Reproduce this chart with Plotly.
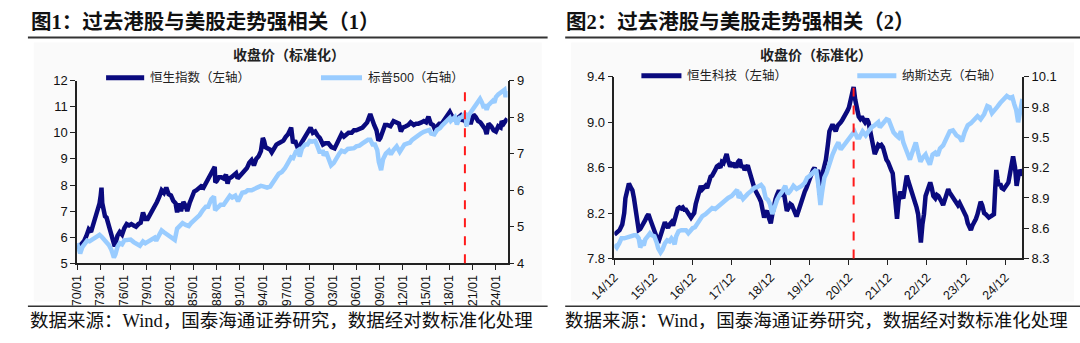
import plotly.graph_objects as go

# ---------------- data: left panel (HSI vs S&P500, log standardized) ----------------
hsi_t = [1970.0,1970.3,1970.6,1970.9,1971.2,1971.5,1971.8,1972.1,1972.4,1972.7,1972.9,1973.05,1973.15,1973.25,1973.4,1973.6,1973.8,1974.0,1974.3,1974.6,1974.85,1975.0,1975.2,1975.5,1975.8,1976.1,1976.4,1976.7,1977.0,1977.3,1977.6,1977.9,1978.2,1978.5,1978.8,1979.1,1979.4,1979.7,1980.0,1980.3,1980.6,1980.9,1981.2,1981.5,1981.8,1982.1,1982.4,1982.7,1982.9,1983.1,1983.4,1983.7,1984.0,1984.2,1984.5,1984.8,1985.1,1985.4,1985.7,1986.0,1986.3,1986.6,1986.9,1987.2,1987.5,1987.75,1987.82,1988.0,1988.3,1988.6,1988.9,1989.2,1989.4,1989.6,1989.9,1990.2,1990.5,1990.7,1991.0,1991.3,1991.6,1991.9,1992.2,1992.5,1992.8,1993.1,1993.4,1993.7,1993.95,1994.1,1994.3,1994.6,1994.9,1995.1,1995.4,1995.7,1996.0,1996.3,1996.6,1996.9,1997.2,1997.6,1997.85,1998.1,1998.6,1998.9,1999.3,1999.7,2000.1,2000.4,2000.7,2001.0,2001.3,2001.7,2002.0,2002.4,2002.8,2003.2,2003.5,2003.8,2004.1,2004.4,2004.7,2005.0,2005.4,2005.7,2006.0,2006.4,2006.8,2007.1,2007.4,2007.8,2008.0,2008.3,2008.6,2008.85,2009.1,2009.4,2009.7,2010.0,2010.4,2010.8,2011.1,2011.5,2011.75,2012.0,2012.4,2012.7,2013.0,2013.4,2013.7,2014.0,2014.4,2014.7,2015.0,2015.3,2015.6,2015.9,2016.1,2016.4,2016.7,2017.0,2017.4,2017.7,2018.05,2018.3,2018.6,2018.9,2019.2,2019.4,2019.6,2019.9,2020.2,2020.5,2020.8,2021.1,2021.4,2021.7,2022.0,2022.3,2022.6,2022.8,2023.05,2023.4,2023.7,2024.0,2024.3,2024.6,2024.75,2025.0,2025.3,2025.45]
hsi_v = [5.55,5.65,5.72,5.85,6.05,6.3,6.2,6.5,6.7,6.95,7.3,7.6,7.9,7.3,7.0,6.8,6.75,6.55,6.35,6.05,5.65,5.8,6.05,6.2,6.1,6.35,6.5,6.45,6.5,6.45,6.4,6.5,6.55,6.95,6.7,6.7,6.85,7.05,7.2,7.35,7.55,7.8,7.7,7.9,7.65,7.6,7.4,7.3,6.95,7.3,7.0,7.35,7.2,7.0,7.3,7.6,7.75,7.8,7.85,7.95,7.9,8.05,8.2,8.4,8.55,8.7,8.1,8.15,8.3,8.3,8.25,8.4,8.05,8.25,8.3,8.4,8.45,8.25,8.35,8.5,8.55,8.65,8.85,8.95,8.75,9.0,9.1,9.3,9.8,9.7,9.45,9.4,9.35,9.25,9.45,9.55,9.6,9.65,9.7,9.85,9.95,10.2,9.6,9.7,9.3,9.6,9.8,9.95,10.2,10.0,10.05,9.9,9.8,9.55,9.6,9.6,9.45,9.4,9.6,9.85,9.95,9.85,9.95,10.0,10.0,10.1,10.1,10.15,10.2,10.3,10.4,10.72,10.5,10.3,10.1,9.7,9.8,10.1,10.3,10.3,10.25,10.45,10.4,10.35,10.05,10.2,10.25,10.3,10.4,10.3,10.35,10.35,10.4,10.45,10.4,10.62,10.35,10.3,10.15,10.25,10.35,10.35,10.5,10.6,10.8,10.65,10.55,10.45,10.6,10.65,10.45,10.55,10.35,10.4,10.4,10.7,10.6,10.45,10.4,10.3,10.15,9.95,10.35,10.25,10.1,10.05,10.25,10.2,10.45,10.35,10.55,10.55]

spx_t = [1970.0,1970.25,1970.4,1970.7,1971.0,1971.3,1971.6,1971.9,1972.2,1972.5,1972.9,1973.2,1973.5,1973.8,1974.1,1974.4,1974.75,1974.95,1975.2,1975.5,1975.8,1976.1,1976.5,1976.9,1977.3,1977.7,1978.1,1978.5,1978.8,1979.2,1979.6,1980.0,1980.2,1980.6,1980.9,1981.2,1981.6,1981.9,1982.3,1982.6,1982.9,1983.3,1983.6,1984.0,1984.4,1984.7,1985.0,1985.4,1985.8,1986.2,1986.6,1986.9,1987.3,1987.65,1987.8,1988.1,1988.5,1988.9,1989.3,1989.7,1990.0,1990.4,1990.75,1991.0,1991.3,1991.7,1992.0,1992.5,1992.9,1993.3,1993.7,1994.1,1994.5,1994.9,1995.3,1995.7,1996.0,1996.4,1996.8,1997.2,1997.6,1997.85,1998.2,1998.55,1998.7,1999.0,1999.4,1999.7,2000.0,2000.3,2000.7,2001.0,2001.25,2001.7,2001.8,2002.1,2002.5,2002.75,2003.1,2003.4,2003.8,2004.1,2004.5,2004.9,2005.3,2005.7,2006.0,2006.4,2006.8,2007.2,2007.5,2007.8,2008.1,2008.4,2008.7,2008.9,2009.2,2009.45,2009.8,2010.2,2010.45,2010.8,2011.2,2011.6,2011.9,2012.2,2012.6,2012.9,2013.2,2013.6,2013.9,2014.3,2014.7,2015.0,2015.4,2015.65,2016.05,2016.4,2016.8,2017.1,2017.5,2017.9,2018.05,2018.2,2018.7,2018.97,2019.3,2019.6,2019.9,2020.1,2020.2,2020.5,2020.8,2021.1,2021.5,2021.95,2022.2,2022.45,2022.6,2022.8,2023.0,2023.3,2023.6,2023.8,2024.0,2024.3,2024.6,2024.9,2025.1,2025.25,2025.45]
spx_v = [4.55,4.42,4.27,4.45,4.55,4.62,4.6,4.65,4.7,4.72,4.78,4.72,4.65,4.6,4.5,4.38,4.16,4.25,4.45,4.55,4.52,4.63,4.64,4.65,4.58,4.52,4.48,4.6,4.55,4.6,4.65,4.7,4.62,4.78,4.9,4.85,4.8,4.75,4.68,4.64,4.95,5.05,5.1,5.05,5.02,5.1,5.15,5.25,5.32,5.45,5.55,5.55,5.75,5.83,5.45,5.52,5.6,5.6,5.72,5.85,5.8,5.85,5.7,5.8,5.93,5.95,6.0,6.0,6.05,6.08,6.12,6.1,6.07,6.1,6.22,6.35,6.45,6.5,6.6,6.75,6.9,6.88,7.05,7.1,6.92,7.15,7.25,7.25,7.35,7.33,7.35,7.2,7.05,7.05,6.95,7.05,6.85,6.68,6.75,6.88,7.0,7.08,7.05,7.13,7.13,7.15,7.2,7.22,7.28,7.33,7.38,7.38,7.25,7.25,7.1,6.78,6.55,6.85,7.0,7.08,6.98,7.1,7.2,7.05,7.15,7.25,7.28,7.3,7.38,7.45,7.5,7.55,7.6,7.62,7.65,7.55,7.53,7.65,7.7,7.78,7.85,7.92,7.98,7.9,8.0,7.8,7.98,8.0,8.1,8.12,7.75,8.05,8.15,8.25,8.4,8.5,8.4,8.25,8.35,8.2,8.32,8.38,8.45,8.4,8.55,8.62,8.68,8.75,8.75,8.55,8.72]

# ---------------- data: right panel (HSTECH vs Nasdaq, log standardized) ----------------
hstech_t = [2014.92,2014.98,2015.05,2015.12,2015.17,2015.2,2015.25,2015.29,2015.33,2015.38,2015.42,2015.46,2015.5,2015.54,2015.58,2015.63,2015.67,2015.71,2015.75,2015.79,2015.84,2015.88,2015.92,2015.96,2016.02,2016.06,2016.1,2016.13,2016.17,2016.21,2016.25,2016.29,2016.33,2016.38,2016.42,2016.46,2016.5,2016.54,2016.58,2016.63,2016.67,2016.71,2016.75,2016.8,2016.84,2016.88,2016.92,2016.96,2017.0,2017.04,2017.08,2017.13,2017.17,2017.21,2017.25,2017.29,2017.33,2017.38,2017.42,2017.46,2017.5,2017.54,2017.58,2017.63,2017.67,2017.71,2017.75,2017.79,2017.83,2017.88,2017.92,2017.96,2018.0,2018.04,2018.08,2018.13,2018.17,2018.21,2018.25,2018.29,2018.33,2018.38,2018.42,2018.46,2018.5,2018.54,2018.58,2018.63,2018.67,2018.71,2018.75,2018.79,2018.83,2018.88,2018.92,2018.96,2019.0,2019.04,2019.08,2019.13,2019.17,2019.21,2019.25,2019.29,2019.33,2019.38,2019.42,2019.46,2019.5,2019.54,2019.58,2019.63,2019.67,2019.71,2019.75,2019.79,2019.83,2019.88,2019.92,2019.96,2020.0,2020.04,2020.08,2020.13,2020.17,2020.21,2020.25,2020.29,2020.33,2020.38,2020.42,2020.46,2020.5,2020.54,2020.58,2020.63,2020.67,2020.71,2020.75,2020.79,2020.83,2020.88,2020.92,2020.96,2021.0,2021.04,2021.08,2021.13,2021.17,2021.21,2021.25,2021.29,2021.33,2021.38,2021.42,2021.46,2021.5,2021.54,2021.58,2021.63,2021.67,2021.71,2021.75,2021.79,2021.83,2021.88,2021.92,2021.96,2022.0,2022.04,2022.08,2022.11,2022.15,2022.19,2022.23,2022.27,2022.31,2022.35,2022.4,2022.44,2022.48,2022.52,2022.56,2022.6,2022.65,2022.69,2022.72,2022.76,2022.8,2022.84,2022.88,2022.92,2022.96,2023.0,2023.04,2023.08,2023.13,2023.17,2023.21,2023.25,2023.29,2023.33,2023.38,2023.42,2023.46,2023.5,2023.54,2023.58,2023.63,2023.67,2023.71,2023.75,2023.79,2023.83,2023.88,2023.92,2023.96,2024.0,2024.04,2024.08,2024.13,2024.17,2024.21,2024.25,2024.29,2024.33,2024.38,2024.42,2024.46,2024.5,2024.54,2024.58,2024.63,2024.66,2024.69,2024.72,2024.75,2024.79,2024.83,2024.88,2024.92,2024.96,2025.0,2025.04,2025.08,2025.12,2025.17,2025.21,2025.25,2025.29,2025.33,2025.36]
hstech_v = [8.01,8.03,8.05,8.1,8.2,8.33,8.4,8.46,8.43,8.4,8.33,8.22,8.15,8.05,8.06,8.1,8.11,8.14,8.17,8.19,8.14,8.1,8.07,8.02,7.97,7.96,8.0,8.04,8.08,8.12,8.09,8.07,8.1,8.12,8.09,8.15,8.2,8.24,8.25,8.24,8.25,8.23,8.23,8.2,8.18,8.16,8.18,8.2,8.28,8.32,8.38,8.44,8.41,8.43,8.44,8.42,8.48,8.52,8.53,8.55,8.58,8.61,8.62,8.6,8.65,8.64,8.67,8.72,8.66,8.61,8.63,8.62,8.64,8.6,8.65,8.67,8.6,8.62,8.58,8.61,8.62,8.56,8.5,8.47,8.42,8.39,8.37,8.33,8.3,8.22,8.16,8.2,8.22,8.15,8.11,8.19,8.27,8.32,8.36,8.4,8.37,8.35,8.39,8.32,8.22,8.25,8.28,8.27,8.24,8.19,8.17,8.22,8.27,8.3,8.35,8.39,8.42,8.47,8.5,8.56,8.58,8.6,8.55,8.58,8.36,8.5,8.55,8.6,8.67,8.8,8.92,8.95,8.98,8.95,8.92,8.97,8.98,9.0,9.02,9.04,9.06,9.1,9.13,9.2,9.26,9.31,9.2,9.1,9.05,9.03,9.05,9.02,9.0,9.03,9.0,8.93,8.84,8.78,8.72,8.76,8.8,8.79,8.8,8.78,8.72,8.67,8.65,8.6,8.58,8.55,8.4,8.33,8.15,8.3,8.39,8.35,8.33,8.42,8.53,8.48,8.44,8.4,8.37,8.33,8.25,8.19,8.05,7.94,8.1,8.19,8.35,8.39,8.45,8.47,8.42,8.35,8.33,8.36,8.35,8.31,8.3,8.27,8.32,8.37,8.41,8.38,8.36,8.33,8.3,8.28,8.27,8.29,8.26,8.24,8.2,8.17,8.11,8.08,8.05,8.09,8.12,8.15,8.19,8.25,8.3,8.27,8.2,8.19,8.17,8.16,8.17,8.18,8.19,8.4,8.58,8.5,8.44,8.46,8.42,8.41,8.44,8.45,8.47,8.55,8.65,8.7,8.6,8.44,8.52,8.58,8.56,8.58]

ndx_t = [2014.92,2014.98,2015.04,2015.1,2015.17,2015.23,2015.29,2015.35,2015.42,2015.48,2015.54,2015.58,2015.63,2015.67,2015.71,2015.77,2015.83,2015.88,2015.94,2016.0,2016.04,2016.1,2016.15,2016.21,2016.27,2016.33,2016.38,2016.42,2016.46,2016.5,2016.56,2016.63,2016.69,2016.75,2016.81,2016.85,2016.92,2016.98,2017.04,2017.1,2017.17,2017.25,2017.33,2017.42,2017.5,2017.58,2017.67,2017.75,2017.83,2017.92,2018.0,2018.06,2018.1,2018.15,2018.21,2018.27,2018.33,2018.42,2018.5,2018.58,2018.67,2018.73,2018.79,2018.85,2018.9,2018.96,2019.02,2019.08,2019.15,2019.21,2019.29,2019.35,2019.42,2019.5,2019.58,2019.63,2019.71,2019.79,2019.85,2019.92,2020.0,2020.08,2020.13,2020.19,2020.23,2020.29,2020.35,2020.42,2020.5,2020.58,2020.65,2020.71,2020.75,2020.81,2020.88,2020.94,2021.0,2021.06,2021.13,2021.19,2021.27,2021.35,2021.42,2021.5,2021.58,2021.67,2021.71,2021.79,2021.88,2021.94,2022.0,2022.06,2022.13,2022.19,2022.25,2022.31,2022.38,2022.44,2022.48,2022.54,2022.6,2022.63,2022.69,2022.75,2022.81,2022.88,2022.94,2022.99,2023.06,2023.13,2023.19,2023.25,2023.33,2023.42,2023.5,2023.58,2023.67,2023.75,2023.81,2023.88,2023.96,2024.04,2024.13,2024.21,2024.29,2024.38,2024.46,2024.52,2024.58,2024.63,2024.71,2024.79,2024.88,2024.96,2025.04,2025.1,2025.15,2025.2,2025.25,2025.29,2025.33,2025.36]
ndx_v = [8.44,8.41,8.45,8.5,8.5,8.51,8.52,8.53,8.53,8.53,8.5,8.41,8.45,8.43,8.49,8.52,8.55,8.53,8.52,8.46,8.4,8.36,8.39,8.45,8.48,8.47,8.5,8.48,8.44,8.52,8.57,8.58,8.58,8.58,8.55,8.57,8.6,8.61,8.65,8.68,8.72,8.74,8.77,8.8,8.79,8.82,8.84,8.88,8.9,8.92,8.95,8.98,8.9,8.93,8.89,8.92,8.94,8.97,9.0,9.01,9.03,9.0,8.9,8.88,8.84,8.74,8.83,8.88,8.93,8.96,9.02,8.94,8.97,9.02,8.99,9.0,9.02,9.05,9.1,9.12,9.15,9.18,9.05,8.83,8.95,9.1,9.15,9.25,9.33,9.4,9.45,9.38,9.4,9.42,9.47,9.5,9.52,9.56,9.5,9.5,9.56,9.52,9.56,9.6,9.62,9.65,9.6,9.64,9.68,9.67,9.62,9.55,9.52,9.5,9.56,9.45,9.38,9.33,9.28,9.35,9.42,9.45,9.35,9.26,9.3,9.33,9.27,9.23,9.33,9.35,9.32,9.39,9.42,9.5,9.56,9.57,9.52,9.5,9.46,9.55,9.62,9.64,9.68,9.71,9.68,9.73,9.81,9.8,9.74,9.77,9.8,9.84,9.88,9.91,9.89,9.9,9.83,9.77,9.65,9.75,9.84,9.88]

left_names = ["恒生指数（左轴）", "标普500（右轴）"]
right_names = ["恒生科技（左轴）", "纳斯达克（右轴）"]

left_ticks = [1970 + 3 * i for i in range(19)]
left_ticktext = ["70/01","73/01","76/01","79/01","82/01","85/01","88/01","91/01","94/01","97/01","00/01","03/01","06/01","09/01","12/01","15/01","18/01","21/01","24/01"]
right_ticks = [2014.917 + i for i in range(11)]
right_ticktext = ["14/12","15/12","16/12","17/12","18/12","19/12","20/12","21/12","22/12","23/12","24/12"]

y1_ticks = [5, 6, 7, 8, 9, 10, 11, 12]
y2_ticks = [4, 5, 6, 7, 8, 9]
y3_ticks = [7.8, 8.2, 8.6, 9.0, 9.4]
y3_text = ["7.8", "8.2", "8.6", "9.0", "9.4"]
y4_ticks = [8.3, 8.6, 8.9, 9.2, 9.5, 9.8, 10.1]
y4_text = ["8.3", "8.6", "8.9", "9.2", "9.5", "9.8", "10.1"]

left_marker_year = 2020.0
right_marker_year = 2021.04

titles = ["图1：过去港股与美股走势强相关（1）", "图2：过去港股与美股走势强相关（2）"]
subtitle = "收盘价（标准化）"
source = "数据来源：Wind，国泰海通证券研究，数据经对数标准化处理"

DARK = "#0a0a7e"
LIGHT = "#99ccff"
W, H = 1080, 343

def px(x):
    return x / W

def py(y):
    return 1 - y / H

fig = go.Figure()
fig.add_trace(go.Scatter(x=hsi_t, y=hsi_v, mode="lines", line=dict(color=DARK, width=4.5), xaxis="x", yaxis="y", name=left_names[0]))
fig.add_trace(go.Scatter(x=spx_t, y=spx_v, mode="lines", line=dict(color=LIGHT, width=4.5), xaxis="x", yaxis="y2", name=left_names[1]))
fig.add_trace(go.Scatter(x=hstech_t, y=hstech_v, mode="lines", line=dict(color=DARK, width=4.5), xaxis="x2", yaxis="y3", name=right_names[0]))
fig.add_trace(go.Scatter(x=ndx_t, y=ndx_v, mode="lines", line=dict(color=LIGHT, width=4.5), xaxis="x2", yaxis="y4", name=right_names[1]))

tickfont = dict(family="Liberation Sans, Arial", size=13, color="#111")
axis_common = dict(showgrid=False, zeroline=False, showline=True, linecolor="#222", linewidth=1.5,
                   ticks="outside", ticklen=5, tickwidth=1.3, tickcolor="#222")

L_dom = [px(53.3), px(494)]
R_dom = [px(603.3), px(1020.7)]
L_y = [py(268), py(77)]
R_y = [py(263), py(73)]

fig.update_layout(
    width=W, height=H, margin=dict(l=0, r=0, t=0, b=0), autosize=False,
    paper_bgcolor="white", plot_bgcolor="rgba(0,0,0,0)", showlegend=False,
    xaxis=dict(domain=L_dom, anchor="y", range=[1970, 2025.5], tickvals=left_ticks, ticktext=left_ticktext,
               tickangle=-90, tickfont=dict(family="Liberation Sans, Arial", size=12.5, color="#111"), **axis_common),
    yaxis=dict(domain=L_y, anchor="x", range=[5, 12.0001], tickvals=y1_ticks, tickfont=tickfont, **axis_common),
    yaxis2=dict(overlaying="y", side="right", anchor="x", range=[4, 9.0001], tickvals=y2_ticks, tickfont=tickfont, **axis_common),
    xaxis2=dict(domain=R_dom, anchor="y3", range=[2014.917, 2025.35], tickvals=right_ticks, ticktext=right_ticktext,
                tickangle=-45, tickfont=dict(family="Liberation Sans, Arial", size=12.5, color="#111"), **axis_common),
    yaxis3=dict(domain=R_y, anchor="x2", range=[7.8, 9.4001], tickvals=y3_ticks, ticktext=y3_text, tickfont=tickfont, **axis_common),
    yaxis4=dict(overlaying="y3", side="right", anchor="x2", range=[8.3, 10.1001], tickvals=y4_ticks, ticktext=y4_text, tickfont=tickfont, **axis_common),
)

shapes = []
annotations = []
for x0, x1 in [(3, 535), (553, 1080)]:
    shapes.append(dict(type="rect", xref="paper", yref="paper", x0=px(x0 + 6), x1=px(x1 - 6), y0=py(308), y1=py(37),
                       fillcolor="#fafafa", line=dict(width=0), layer="below"))
    shapes.append(dict(type="line", xref="paper", yref="paper", x0=px(x0), x1=px(x1), y0=py(32), y1=py(32),
                       line=dict(color="#333", width=2)))
    shapes.append(dict(type="line", xref="paper", yref="paper", x0=px(x0), x1=px(x1), y0=py(313), y1=py(313),
                       line=dict(color="#333", width=1.5)))

shapes.append(dict(type="line", xref="x", yref="y domain", x0=left_marker_year, x1=left_marker_year, y0=0, y1=0.97,
                   line=dict(color="#ff1a1a", width=2, dash="dash")))
shapes.append(dict(type="line", xref="x2", yref="y3 domain", x0=right_marker_year, x1=right_marker_year, y0=0, y1=0.94,
                   line=dict(color="#ff1a1a", width=2, dash="dash")))

legend_items = [
    (83, 122, 74, DARK, left_names[0]),
    (303, 345, 74, LIGHT, left_names[1]),
    (631, 672, 72, DARK, right_names[0]),
    (852, 892, 72, LIGHT, right_names[1]),
]
for x0, x1, y, c, name in legend_items:
    shapes.append(dict(type="line", xref="paper", yref="paper", x0=px(x0), x1=px(x1), y0=py(y), y1=py(y),
                       line=dict(color=c, width=5)))
    annotations.append(dict(xref="paper", yref="paper", x=px(x1 + 4), y=py(y), text=name, showarrow=False,
                            xanchor="left", yanchor="middle",
                            font=dict(family="Liberation Sans, Noto Sans CJK SC", size=12.5, color="#222")))

CJK_SERIF = "Liberation Serif, Noto Sans CJK SC"
for i, (x0, cx) in enumerate([(4, 270), (552, 810)]):
    annotations.append(dict(xref="paper", yref="paper", x=px(x0), y=py(16), text="<b>" + titles[i] + "</b>",
                            showarrow=False, xanchor="left", yanchor="middle",
                            font=dict(family=CJK_SERIF, size=20.5, color="#111")))
    annotations.append(dict(xref="paper", yref="paper", x=px(cx), y=py(49), text="<b>" + subtitle + "</b>",
                            showarrow=False, xanchor="center", yanchor="middle",
                            font=dict(family="Noto Sans CJK SC", size=14, color="#222")))
    annotations.append(dict(xref="paper", yref="paper", x=px(x0 - 1), y=py(328), text=source,
                            showarrow=False, xanchor="left", yanchor="middle",
                            font=dict(family=CJK_SERIF, size=18.5, color="#111")))

fig.update_layout(shapes=shapes, annotations=annotations)
fig.write_html("out.html")
